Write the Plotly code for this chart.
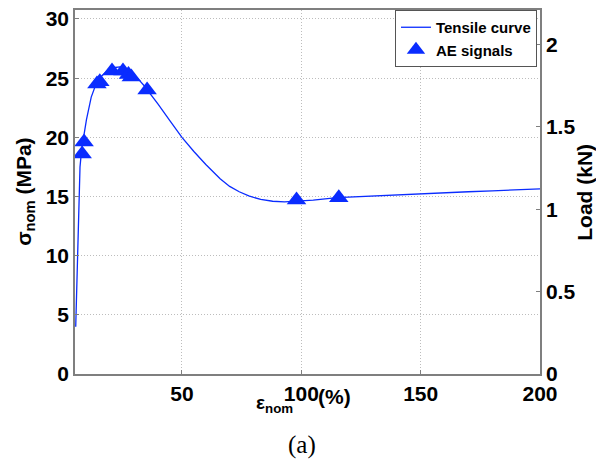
import plotly.graph_objects as go

# Tensile curve (nominal strain %, nominal stress MPa)
strain = [5.5, 6.0, 6.5, 6.9, 7.3, 8, 9, 10, 12, 14, 16, 18, 20, 22, 24, 26, 28, 30, 32, 34, 36,
          40, 45, 50, 55, 60, 66, 70, 74, 78, 83, 88, 93, 98, 105, 115, 125, 135, 150,
          160, 170, 180, 190, 200]
stress = [4.0, 8.0, 12.0, 14.6, 17.5, 19.0, 20.3, 21.5, 23.4, 24.5, 25.1, 25.5, 25.75, 25.9, 25.95,
          25.85, 25.6, 25.25, 24.85, 24.4, 23.9, 22.8, 21.4, 20.0, 18.8, 17.7, 16.5, 15.85, 15.4,
          15.05, 14.75, 14.6, 14.55, 14.6, 14.7, 14.9, 15.0, 15.08, 15.2, 15.3, 15.4, 15.48,
          15.57, 15.65]

# AE signal events
ae_strain = [8.2, 9.0, 14.4, 15.6, 20.7, 25.3, 27.6, 28.8, 35.4, 98.0, 115.7]
ae_stress = [18.6, 19.6, 24.5, 24.7, 25.6, 25.6, 25.3, 25.1, 24.0, 14.7, 14.9]

x_ticks = [50, 100, 150, 200]
y_ticks = [0, 5, 10, 15, 20, 25, 30]
y2_ticks = [0, 0.5, 1, 1.5, 2]
y2_labels = ["0", "0.5", "1", "1.5", "2"]

blue = "#0a2cff"
tickfont = dict(family="Liberation Sans, Arial", size=21, color="black")
grid = dict(showgrid=True, gridcolor="#bdbdbd", griddash="1px,2px", gridwidth=1)

fig = go.Figure()
fig.add_trace(go.Scatter(x=strain, y=stress, mode="lines", name="<b>Tensile curve</b>",
                         line=dict(color=blue, width=1.3)))
fig.add_trace(go.Scatter(x=ae_strain, y=ae_stress, mode="markers", name="<b>AE signals</b>",
                         marker=dict(symbol="triangle-up", size=17, color=blue)))
fig.add_trace(go.Scatter(x=[100], y=[1], yaxis="y2", mode="markers", showlegend=False,
                         marker=dict(opacity=0), hoverinfo="skip"))

fig.update_layout(
    width=596, height=463,
    margin=dict(l=75, r=56, t=7, b=89),
    paper_bgcolor="white", plot_bgcolor="white",
    showlegend=True,
    legend=dict(x=0.9935, y=1.0, xanchor="right", yanchor="top",
                bgcolor="white", bordercolor="#555555", borderwidth=1,
                font=dict(family="Liberation Sans, Arial", size=15, color="black"),
                tracegroupgap=0, itemwidth=30),
    xaxis=dict(range=[5.2, 200], tickvals=x_ticks, ticktext=[f"<b>{v}</b>" for v in x_ticks],
               tickfont=tickfont, **grid, showline=True, linecolor="#7f7f7f", linewidth=1.5,
               mirror=True, ticks="inside", ticklen=4, tickcolor="#7f7f7f", zeroline=False),
    yaxis=dict(range=[0, 30.76], tickvals=y_ticks, ticktext=[f"<b>{v}</b>" for v in y_ticks],
               tickfont=tickfont, **grid, showline=True, linecolor="#7f7f7f", linewidth=1.5,
               mirror=False, ticks="inside", ticklen=4, tickcolor="#7f7f7f", zeroline=False),
    yaxis2=dict(range=[0, 2.21], overlaying="y", side="right", tickvals=y2_ticks,
                ticktext=[f"<b>{v}</b>" for v in y2_labels], tickfont=tickfont,
                showgrid=False, showline=True, linecolor="#7f7f7f", linewidth=1.5,
                ticks="inside", ticklen=4, tickcolor="#7f7f7f", zeroline=False),
)

annfont = dict(family="Liberation Sans, Arial", size=21, color="black")
fig.add_annotation(text="<b>σ<sub>nom</sub> (MPa)</b>", textangle=-90, xref="paper", yref="paper",
                   x=-0.108, y=0.5, xanchor="center", yanchor="middle", showarrow=False,
                   font=annfont)
fig.add_annotation(text="<b>Load (kN)</b>", textangle=-90, xref="paper", yref="paper",
                   x=1.094, y=0.5, xanchor="center", yanchor="middle", showarrow=False,
                   font=annfont)
fig.add_annotation(text="<b>ε<sub>nom</sub></b>", xref="paper", yref="paper",
                   x=0.43, y=-0.045, xanchor="center", yanchor="top", showarrow=False,
                   font=dict(family="Liberation Sans, Arial", size=19, color="black"))
fig.add_annotation(text="<b>(%)</b>", xref="paper", yref="paper",
                   x=0.559, y=-0.025, xanchor="center", yanchor="top", showarrow=False,
                   font=annfont)
fig.add_annotation(text="(a)", xref="paper", yref="paper",
                   x=0.488, y=-0.15, xanchor="center", yanchor="top", showarrow=False,
                   font=dict(family="Liberation Serif, Times New Roman", size=25, color="black"))

fig.write_html("out.html")
